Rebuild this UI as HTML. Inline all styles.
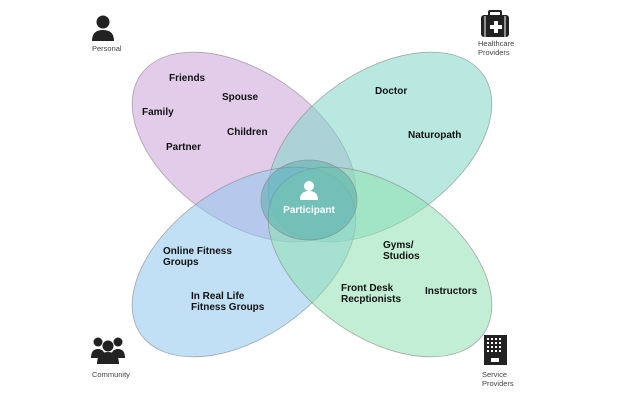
<!DOCTYPE html>
<html><head><style>
body{margin:0;background:#fff;}
svg text{font-family:"Liberation Sans",sans-serif;}
.b{font-size:10px;font-weight:bold;fill:#111;}
.s{font-size:7.5px;fill:#444;}
</style></head><body>
<svg width="624" height="400" viewBox="0 0 624 400" xmlns="http://www.w3.org/2000/svg">
<g stroke="#888" stroke-width="0.8" stroke-opacity="0.7">
<ellipse cx="244" cy="147" rx="126" ry="75" transform="rotate(35 244 147)" fill="#c79ed6" fill-opacity="0.52"/>
<ellipse cx="380" cy="147" rx="126" ry="75" transform="rotate(-35 380 147)" fill="#7fd6c6" fill-opacity="0.55"/>
<ellipse cx="244" cy="262" rx="126" ry="75" transform="rotate(-35 244 262)" fill="#8ec6ec" fill-opacity="0.55"/>
<ellipse cx="380" cy="262" rx="126" ry="75" transform="rotate(35 380 262)" fill="#8ee0b0" fill-opacity="0.55"/>
<ellipse cx="309" cy="200" rx="48" ry="40" fill="#4aa6a6" fill-opacity="0.45"/>
</g>
<g fill="#fff"><circle cx="309" cy="186" r="5"/><path d="M300 200 q0-9 9-9 q9 0 9 9 z"/></g>
<text x="309" y="213" text-anchor="middle" class="b" style="fill:#fff">Participant</text>
<text x="169" y="81" class="b">Friends</text>
<text x="222" y="100" class="b">Spouse</text>
<text x="142" y="115" class="b">Family</text>
<text x="227" y="135" class="b">Children</text>
<text x="166" y="150" class="b">Partner</text>
<text x="375" y="94" class="b">Doctor</text>
<text x="408" y="138" class="b">Naturopath</text>
<text x="163" y="254" class="b">Online Fitness</text>
<text x="163" y="265" class="b">Groups</text>
<text x="191" y="299" class="b">In Real Life</text>
<text x="191" y="310" class="b">Fitness Groups</text>
<text x="383" y="248" class="b">Gyms/</text>
<text x="383" y="259" class="b">Studios</text>
<text x="341" y="291" class="b">Front Desk</text>
<text x="341" y="302" class="b">Recptionists</text>
<text x="425" y="294" class="b">Instructors</text>
<g fill="#222">
<circle cx="103" cy="22" r="6.5"/><path d="M92 41 q0-11 11-11 q11 0 11 11 z"/>
<rect x="481" y="15" width="28" height="22" rx="3"/><rect x="489" y="11" width="12" height="5" rx="1" fill="none" stroke="#222" stroke-width="2"/>
<circle cx="98" cy="342" r="4.5"/><circle cx="118" cy="342" r="4.5"/><path d="M91 358 q0-9 7-9 q7 0 7 9z M111 358 q0-9 7-9 q7 0 7 9z"/>
<circle cx="108" cy="346" r="5.5"/><path d="M97 364 q0-12 11-12 q11 0 11 12z"/>
<rect x="484" y="335" width="23" height="30"/>
</g>
<path d="M493 26h4v-4h4v4h4v4h-4v4h-4v-4h-4z" fill="#fff" transform="translate(-3,-1)"/>
<line x1="485" y1="16" x2="485" y2="37" stroke="#fff" stroke-width="1"/><line x1="505" y1="16" x2="505" y2="37" stroke="#fff" stroke-width="1"/>
<g fill="#fff">
<rect x="487" y="338" width="2" height="2"/><rect x="491" y="338" width="2" height="2"/><rect x="495" y="338" width="2" height="2"/><rect x="499" y="338" width="2" height="2"/>
<rect x="487" y="342" width="2" height="2"/><rect x="491" y="342" width="2" height="2"/><rect x="495" y="342" width="2" height="2"/><rect x="499" y="342" width="2" height="2"/>
<rect x="487" y="346" width="2" height="2"/><rect x="491" y="346" width="2" height="2"/><rect x="495" y="346" width="2" height="2"/><rect x="499" y="346" width="2" height="2"/>
<rect x="487" y="350" width="2" height="2"/><rect x="491" y="350" width="2" height="2"/><rect x="495" y="350" width="2" height="2"/><rect x="499" y="350" width="2" height="2"/>
<rect x="491" y="358" width="8" height="4"/>
</g>
<text x="92" y="51" class="s">Personal</text>
<text x="478" y="46" class="s">Healthcare</text>
<text x="478" y="55" class="s">Providers</text>
<text x="92" y="377" class="s">Community</text>
<text x="482" y="377" class="s">Service</text>
<text x="482" y="386" class="s">Providers</text>
</svg>
</body></html>
